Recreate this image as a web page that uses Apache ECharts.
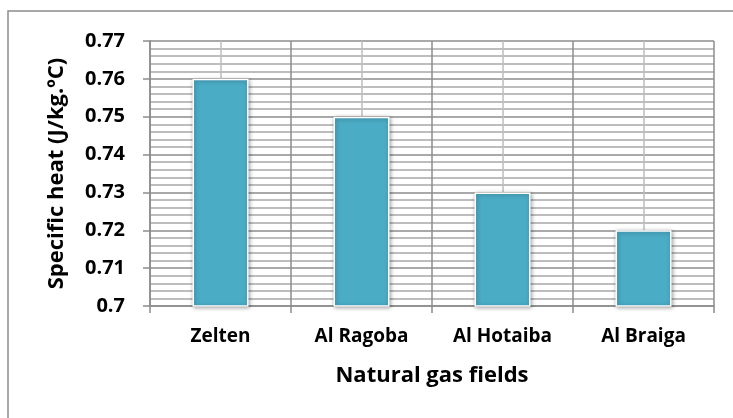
<!DOCTYPE html>
<html>
<head>
<meta charset="utf-8">
<script src="https://cdn.jsdelivr.net/npm/echarts@6/dist/echarts.min.js"></script>
<style>
  html, body { margin: 0; padding: 0; background: #fff; }
  #chart { width: 733px; height: 418px; }
</style>
</head>
<body>
<div id="chart"></div>
<script>
// Specific heat of natural gas from four Libyan fields
const fields = ['Zelten', 'Al Ragoba', 'Al Hotaiba', 'Al Braiga'];
const specificHeat = [0.76, 0.75, 0.73, 0.72];
const yMin = 0.70;
const yMax = 0.77;
const yStep = 0.01;

const FONT = 'Open Sans';
const chart = echarts.init(document.getElementById('chart'));

chart.setOption({
  animation: false,
  backgroundColor: '#ffffff',
  textStyle: { fontFamily: FONT },
  grid: { left: 150, right: 19, top: 41, bottom: 112 },
  graphic: [{
    type: 'polyline',
    shape: { points: [[8, 418], [8, 11], [733, 11]] },
    style: { stroke: '#8c8c8c', lineWidth: 1.5, fill: null },
    silent: true
  }],
  xAxis: [{
    type: 'category',
    data: fields,
    name: 'Natural gas fields',
    nameLocation: 'middle',
    nameGap: 59,
    nameTextStyle: { fontFamily: FONT, fontWeight: 'bold', fontSize: 22, color: '#000' },
    axisLine: { lineStyle: { color: '#8c8c8c', width: 1.5 } },
    axisTick: { show: true, length: 7, lineStyle: { color: '#8c8c8c', width: 1.5 } },
    axisLabel: { margin: 21, fontFamily: FONT, fontWeight: 'bold', fontSize: 19, color: '#000' },
    splitLine: { show: false }
  }, {
    // helper axis for the vertical grid: dark lines at category edges, light at centres
    type: 'value',
    min: 0, max: 4, interval: 1,
    show: true,
    axisLine: { show: false },
    axisTick: { show: false },
    axisLabel: { show: false },
    splitLine: { show: true, lineStyle: { color: '#8c8c8c', width: 1.5 } },
    minorTick: { show: false, splitNumber: 2 },
    minorSplitLine: { show: true, lineStyle: { color: '#bdbdbd', width: 1.5 } }
  }],
  yAxis: {
    type: 'value',
    min: yMin,
    max: yMax,
    interval: yStep,
    name: 'Specific heat (J/kg.ºC)',
    nameLocation: 'middle',
    nameGap: 82,
    nameTextStyle: { fontFamily: FONT, fontWeight: 'bold', fontSize: 22, color: '#000' },
    axisLine: { show: true, lineStyle: { color: '#8c8c8c', width: 1.5 } },
    axisTick: { show: true, length: 7, lineStyle: { color: '#8c8c8c', width: 1.5 } },
    axisLabel: {
      margin: 25, fontFamily: FONT, fontWeight: 'bold', fontSize: 20, color: '#000',
      formatter: v => String(+v.toFixed(2))
    },
    splitLine: { show: true, lineStyle: { color: '#8c8c8c', width: 1.5 } },
    minorTick: { show: false, splitNumber: 5 },
    minorSplitLine: { show: true, lineStyle: { color: '#bdbdbd', width: 2 } }
  },
  series: [{
    type: 'bar',
    xAxisIndex: 0,
    data: specificHeat,
    barWidth: 56,
    itemStyle: {
      color: '#4bacc6',
      borderColor: '#ffffff',
      borderWidth: 1.5,
      shadowColor: 'rgba(0,0,0,0.35)',
      shadowBlur: 4,
      shadowOffsetX: 1,
      shadowOffsetY: 1
    },
    z: 5
  }]
});
</script>
</body>
</html>
